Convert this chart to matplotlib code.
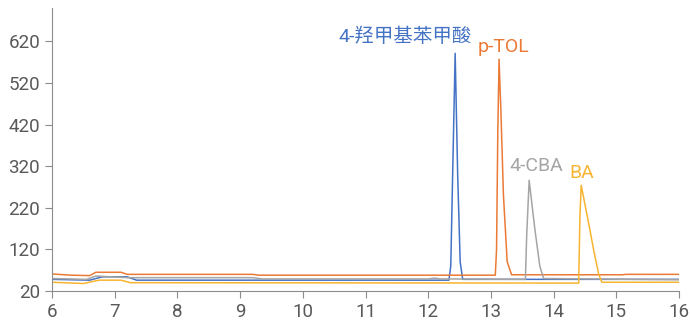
import matplotlib
matplotlib.use("Agg")
import matplotlib.pyplot as plt

plt.rcParams['font.family'] = ['Roboto', 'Noto Sans CJK SC', 'DejaVu Sans']

# retention time (min) and signal for each compound trace
blue_x = [6, 6.6, 6.8, 7.2, 7.35, 9.5, 12.1, 12.33, 12.36, 12.39, 12.43, 12.47, 12.51, 12.55, 14.5, 16]
blue_y = [48, 46, 54, 54, 46, 46, 46, 46, 80, 300, 591, 300, 90, 48, 48, 48]

orange_x = [6, 6.3, 6.6, 6.7, 7.1, 7.2, 9.2, 9.3, 13.07, 13.09, 13.11, 13.13, 13.16, 13.2, 13.26, 13.33, 15.1, 15.15, 16]
orange_y = [61, 58, 57, 65, 65, 60, 60, 58, 58, 120, 400, 577, 450, 250, 90, 59, 59, 60, 60]

gray_x = [6, 6.55, 6.7, 7.2, 9.2, 9.35, 12.0, 12.1, 12.2, 13.55, 13.57, 13.61, 13.7, 13.78, 13.84, 16]
gray_y = [50, 48, 56, 52, 52, 49, 49, 51, 49, 48, 150, 286, 170, 80, 50, 47]

yellow_x = [6, 6.5, 6.75, 7.1, 7.25, 14.40, 14.42, 14.44, 14.55, 14.65, 14.72, 14.77, 15.6, 16]
yellow_y = [41, 38, 46, 46, 40, 39, 200, 274, 190, 110, 60, 41, 41, 41]

labels = ['4-羟甲基苯甲酸', 'p-TOL', '4-CBA', 'BA']
label_pos = [(11.63, 632), (13.2, 606), (13.72, 320), (14.45, 303)]
colors = ['#4472C4', '#EB7A36', '#A5A5A5', '#F7B430']

fig = plt.figure(figsize=(6.9, 3.25), dpi=100)
ax = fig.add_axes([52 / 690, 34 / 325, 627 / 690, 283 / 325])

series = [(blue_x, blue_y), (orange_x, orange_y), (gray_x, gray_y), (yellow_x, yellow_y)]
for (xs, ys), c in zip(series, colors):
    ax.plot(xs, ys, color=c, lw=1.1)

for txt, (lx, ly), c in zip(labels, label_pos, colors):
    ax.text(lx, ly, txt, color=c, fontsize=14, ha='center', va='center')

ax.set_xlim(6, 16)
ax.set_ylim(20, 700)
ax.set_xticks(range(6, 17))
ax.set_yticks(range(20, 621, 100))
for s in ['top', 'right']:
    ax.spines[s].set_visible(False)
for s in ['left', 'bottom']:
    ax.spines[s].set_color('#8c8c8c')
ax.tick_params(colors='#8c8c8c', labelcolor='#595959', labelsize=13.5, length=5)

fig.savefig('out.png', dpi=100)
